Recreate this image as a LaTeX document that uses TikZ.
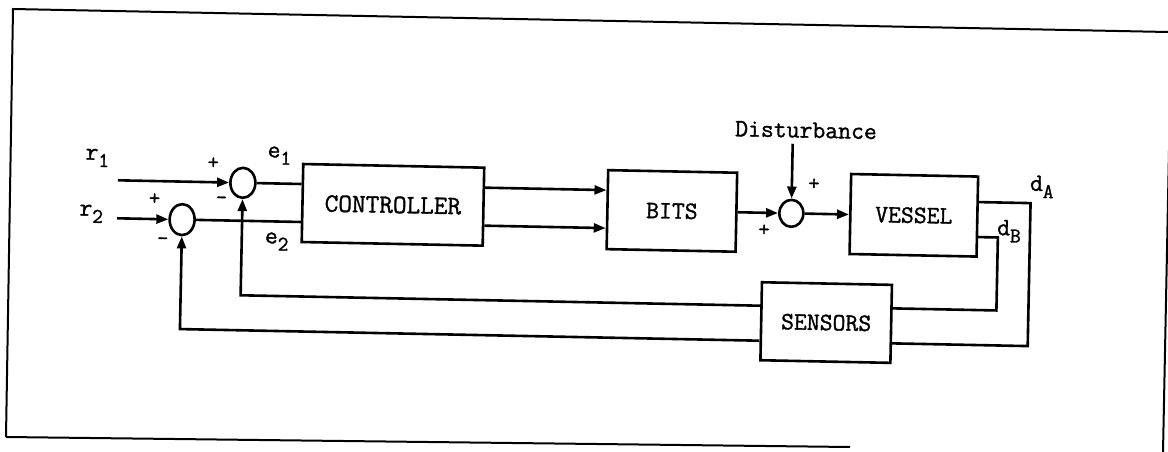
\documentclass[tikz,border=0pt]{standalone}
\usepackage{fontspec}
\newfontfamily\typew[FakeBold=1.2]{Latin Modern Mono}
\usetikzlibrary{arrows.meta,shapes.geometric}
\newcommand{\sbs}[1]{\raisebox{-7pt}{\fontsize{21}{21}\selectfont #1}}
\begin{document}
\begin{tikzpicture}[x=1pt,y=-1pt,
  blk/.style={draw,line width=2.6pt,inner sep=0pt,font=\typew\fontsize{25}{25}\selectfont},
  sumj/.style={draw,ellipse,line width=2.6pt,inner sep=0pt},
  wire/.style={line width=2.6pt},
  arr/.style={wire,-{Triangle[length=12pt,width=9pt]}},
  lab/.style={font=\typew\fontsize{25}{25}\selectfont,inner sep=0pt},
  sgn/.style={font=\typew\fontsize{22}{22}\selectfont,inner sep=0pt},
  frameline/.style={line width=2pt}]
\useasboundingbox (0,0) rectangle (1168,452);
% frame
\draw[frameline] (6,437) -- (13,9) -- (1168,32);
\draw[frameline] (6,437) -- (850,447);
\draw[frameline] (1169,150) -- (1163,452);
\begin{scope}[rotate around={-1.15:(600,230)},transform shape]
% blocks
\node[blk,minimum width=181pt,minimum height=78pt,font=\typew\fontsize{26.5}{26.5}\selectfont] (ctrl) at (392.5,209) {CONTROLLER};
\node[blk,minimum width=129pt,minimum height=79pt] (bits) at (671.5,209.5) {BITS};
\node[blk,minimum width=127pt,minimum height=80pt] (vessel) at (913.5,209) {VESSEL};
\node[blk,minimum width=130pt,minimum height=78pt] (sens) at (828,318) {SENSORS};
% summing junctions
\node[sumj,minimum width=25pt,minimum height=30pt] (s1) at (242,190) {};
\node[sumj,minimum width=25pt,minimum height=31pt] (s2) at (182,228) {};
\node[sumj,minimum width=24pt,minimum height=27pt] (s3) at (791,209.5) {};
% inputs
\coordinate (r1in) at (117,190);
\coordinate (r2in) at (117,228);
\node[lab] (r1) at (96,168) {r\sbs{1}};
\node[lab] (r2) at (91,224) {r\sbs{2}};
\node[lab] (e1) at (278,162) {e\sbs{1}};
\node[lab] (e2) at (277,248) {e\sbs{2}};
\node[lab] (dA) at (1041,178) {d\sbs{A}};
\node[lab] (dB) at (1009,223) {d\sbs{B}};
\node[lab] (dist) at (804,126) {Disturbance};
% signs
\node[sgn] (p1) at (212,171) {+};
\node[sgn] (m1) at (221,208) {-};
\node[sgn] (p2) at (154,208) {+};
\node[sgn] (m2) at (163,250) {-};
\node[sgn] (p3) at (813,180) {+};
\node[sgn] (p4) at (764,227) {+};
% connectors
\draw[arr] (r1in) -- (s1.west);
\draw[arr] (r2in) -- (s2.west);
\draw[wire] (s1.east) -- (ctrl.west |- s1);
\draw[wire] (s2.east) -- (ctrl.west |- s2);
\draw[arr] (ctrl.east |- s1) -- (bits.west |- s1);
\draw[arr] (ctrl.east |- s2) -- (bits.west |- s2);
\draw[arr] (bits.east |- s3) -- (s3.west);
\draw[arr] (s3.east) -- (vessel.west |- s3);
\draw[arr,shorten <=6pt] (dist.south -| s3) -- (s3.north);
\coordinate (pA) at (1030,194.5);
\coordinate (qA) at (1030,337.5);
\coordinate (pB) at (998,229.5);
\coordinate (qB) at (998,302.5);
\draw[wire] (vessel.east |- pA) -- (pA) -- (qA) -- (sens.east |- qA);
\draw[wire] (vessel.east |- pB) -- (pB) -- (qB) -- (sens.east |- qB);
\draw[arr] (sens.west |- qB) -- (s1 |- qB) -- (s1.south);
\draw[arr] (sens.west |- qA) -- (s2 |- qA) -- (s2.south);
\end{scope}
\end{tikzpicture}
\end{document}
